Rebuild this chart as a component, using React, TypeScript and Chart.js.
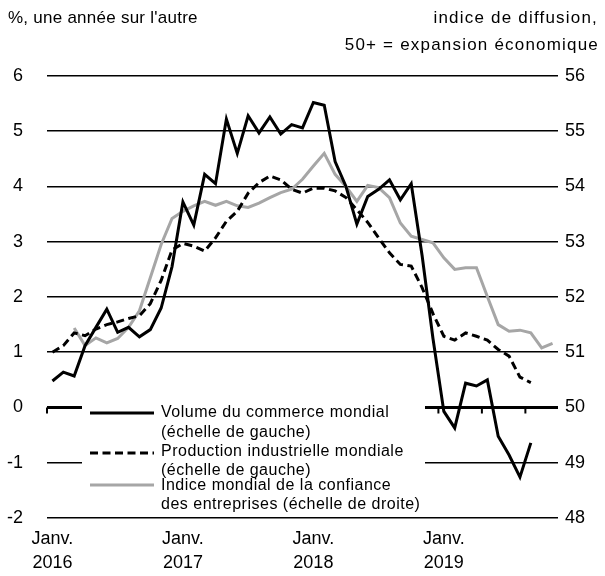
import React, { useEffect, useRef } from 'react';
import { Chart, registerables } from 'chart.js';

Chart.register(...registerables);

// Monthly categories, Jan 2016 – Nov 2019
const categories: string[] = [
  '2016-01', '2016-02', '2016-03', '2016-04', '2016-05', '2016-06', '2016-07', '2016-08', '2016-09', '2016-10', '2016-11', '2016-12',
  '2017-01', '2017-02', '2017-03', '2017-04', '2017-05', '2017-06', '2017-07', '2017-08', '2017-09', '2017-10', '2017-11', '2017-12',
  '2018-01', '2018-02', '2018-03', '2018-04', '2018-05', '2018-06', '2018-07', '2018-08', '2018-09', '2018-10', '2018-11', '2018-12',
  '2019-01', '2019-02', '2019-03', '2019-04', '2019-05', '2019-06', '2019-07', '2019-08', '2019-09', '2019-10', '2019-11',
];

// Volume du commerce mondial (%, a/a, échelle de gauche)
const tradeVolume: (number | null)[] = [
  0.48, 0.64, 0.57, 1.12, 1.45, 1.78, 1.36, 1.45, 1.28, 1.41, 1.8, 2.55,
  3.72, 3.3, 4.22, 4.05, 5.22, 4.6, 5.28, 4.97, 5.26, 4.95, 5.12, 5.06,
  5.52, 5.47, 4.45, 4.0, 3.32, 3.82, 3.95, 4.12, 3.76, 4.05, 2.75, 1.25,
  -0.07, -0.37, 0.44, 0.39, 0.5, -0.52, -0.86, -1.26, -0.64, null, null,
];

// Production industrielle mondiale (%, a/a, échelle de gauche)
const industrialProduction: (number | null)[] = [
  1.0, 1.12, 1.35, 1.3, 1.42, 1.5, 1.55, 1.61, 1.66, 1.88, 2.3, 2.85,
  2.97, 2.92, 2.83, 3.07, 3.37, 3.55, 3.88, 4.07, 4.19, 4.12, 3.95, 3.88,
  3.97, 3.97, 3.92, 3.8, 3.58, 3.35, 3.07, 2.8, 2.59, 2.56, 2.17, 1.7,
  1.29, 1.22, 1.35, 1.29, 1.22, 1.05, 0.93, 0.55, 0.45, null, null,
];

// Indice mondial de la confiance des entreprises (échelle de droite)
const businessConfidence: (number | null)[] = [
  null, null, 51.44, 51.12, 51.26, 51.17, 51.25, 51.45, 51.75, 52.35, 52.95, 53.42,
  53.55, 53.65, 53.73, 53.66, 53.73, 53.65, 53.62, 53.7, 53.8, 53.89, 53.95, 54.13,
  54.37, 54.6, 54.22, 54.0, 53.73, 54.02, 53.98, 53.8, 53.34, 53.1, 53.04, 52.98,
  52.71, 52.5, 52.53, 52.53, 52.01, 51.5, 51.38, 51.4, 51.35, 51.08, 51.16,
];

const seriesNames = [
  ['Volume du commerce mondial', '(échelle de gauche)'],
  ['Production industrielle mondiale', '(échelle de gauche)'],
  ['Indice mondial de la confiance', 'des entreprises (échelle de droite)'],
];

const leftTitle = "%, une année sur l'autre";
const rightTitle = ['indice de diffusion,', '50+ = expansion économique'];

const FONT = "'Liberation Sans', Arial, sans-serif";
const GRAY = '#a6a6a6';

const overlayPlugin = {
  id: 'overlay',
  beforeDatasetsDraw(chart: any) {
    const ctx = chart.ctx;
    const xs = chart.scales.x;
    const ys = chart.scales.y;
    const y0 = ys.getPixelForValue(0);
    const slot = (chart.chartArea.right - chart.chartArea.left) / categories.length;
    ctx.save();
    // x-axis tick marks on the zero line (every 4 months)
    ctx.strokeStyle = '#000';
    ctx.lineWidth = 2;
    for (let i = 0; i < categories.length; i += 4) {
      const x = xs.getPixelForValue(i) - slot / 2;
      ctx.beginPath();
      ctx.moveTo(x, y0);
      ctx.lineTo(x, y0 + 6);
      ctx.stroke();
    }
    // legend box
    ctx.fillStyle = '#fff';
    ctx.fillRect(82, 399, 343, 115);
    const items = [
      { y: 413, lines: [413, 433], color: '#000', dash: [] as number[] },
      { y: 453, lines: [452, 471], color: '#000', dash: [8, 4.5] },
      { y: 485, lines: [486, 505], color: GRAY, dash: [] as number[] },
    ];
    ctx.font = `16px ${FONT}`;
    (ctx as any).letterSpacing = '0.5px';
    ctx.textBaseline = 'middle';
    ctx.textAlign = 'left';
    items.forEach((it, k) => {
      ctx.beginPath();
      ctx.setLineDash(it.dash);
      ctx.strokeStyle = it.color;
      ctx.lineWidth = 3;
      ctx.moveTo(90, it.y);
      ctx.lineTo(154, it.y);
      ctx.stroke();
      ctx.setLineDash([]);
      ctx.fillStyle = '#000';
      ctx.fillText(seriesNames[k][0], 161, it.lines[0]);
      ctx.fillText(seriesNames[k][1], 161, it.lines[1]);
    });
    ctx.restore();
  },
  afterDraw(chart: any) {
    const ctx = chart.ctx;
    ctx.save();
    ctx.fillStyle = '#000';
    ctx.font = `17px ${FONT}`;
    ctx.textBaseline = 'middle';
    ctx.textAlign = 'left';
    (ctx as any).letterSpacing = '0.25px';
    ctx.fillText(leftTitle, 8, 18);
    ctx.textAlign = 'right';
    (ctx as any).letterSpacing = '1.2px';
    ctx.fillText(rightTitle[0], 598, 18);
    ctx.fillText(rightTitle[1], 599, 45);
    ctx.restore();
  },
};

export default function App() {
  const ref = useRef<HTMLCanvasElement | null>(null);
  useEffect(() => {
    if (!ref.current) return;
    const chart = new Chart(ref.current, {
      type: 'line',
      data: {
        labels: categories,
        datasets: [
          {
            label: seriesNames[0].join(' '),
            data: tradeVolume,
            yAxisID: 'y',
            borderColor: '#000',
            borderWidth: 3,
            pointRadius: 0,
            tension: 0,
            spanGaps: false,
          },
          {
            label: seriesNames[1].join(' '),
            data: industrialProduction,
            yAxisID: 'y',
            borderColor: '#000',
            borderWidth: 3,
            borderDash: [8, 4.5],
            pointRadius: 0,
            tension: 0,
          },
          {
            label: seriesNames[2].join(' '),
            data: businessConfidence,
            yAxisID: 'y1',
            borderColor: GRAY,
            borderWidth: 3,
            pointRadius: 0,
            tension: 0,
          },
        ],
      },
      options: {
        responsive: false,
        animation: false,
        devicePixelRatio: 1,
        layout: { padding: { top: 76, left: 0, right: 0, bottom: 0 } },
        plugins: { legend: { display: false }, tooltip: { enabled: false }, title: { display: false } },
        scales: {
          x: {
            type: 'category',
            offset: true,
            grid: { display: false, drawTicks: false },
            border: { display: false },
            afterFit: (s: any) => { s.height = 58; },
            ticks: {
              autoSkip: false,
              maxRotation: 0,
              minRotation: 0,
              padding: 10,
              color: '#000',
              font: { family: FONT, size: 18, lineHeight: 1.28 },
              callback: (_v: any, i: number) => {
                const c = categories[i];
                return c.endsWith('-01') ? ['Janv.', c.slice(0, 4)] : '';
              },
            },
          },
          y: {
            position: 'left',
            min: -2,
            max: 6,
            afterFit: (s: any) => { s.width = 47; },
            grid: {
              drawTicks: false,
              color: '#000',
              lineWidth: (c: any) => (c.tick && c.tick.value === 0 ? 3 : 1.6),
            },
            border: { display: false },
            ticks: { stepSize: 1, padding: 24, color: '#000', font: { family: FONT, size: 18 } },
          },
          y1: {
            position: 'right',
            min: 48,
            max: 56,
            afterFit: (s: any) => { s.width = 47; },
            grid: { display: false, drawTicks: false },
            border: { display: false },
            ticks: { stepSize: 1, padding: 7, color: '#000', font: { family: FONT, size: 18 } },
          },
        },
      },
      plugins: [overlayPlugin],
    } as any);
    return () => chart.destroy();
  }, []);
  return (
    <div style={{ position: 'absolute', left: 0, top: 0, width: 605, height: 576, background: '#fff' }}>
      <canvas ref={ref} width={605} height={576} style={{ display: 'block' }} />
    </div>
  );
}
